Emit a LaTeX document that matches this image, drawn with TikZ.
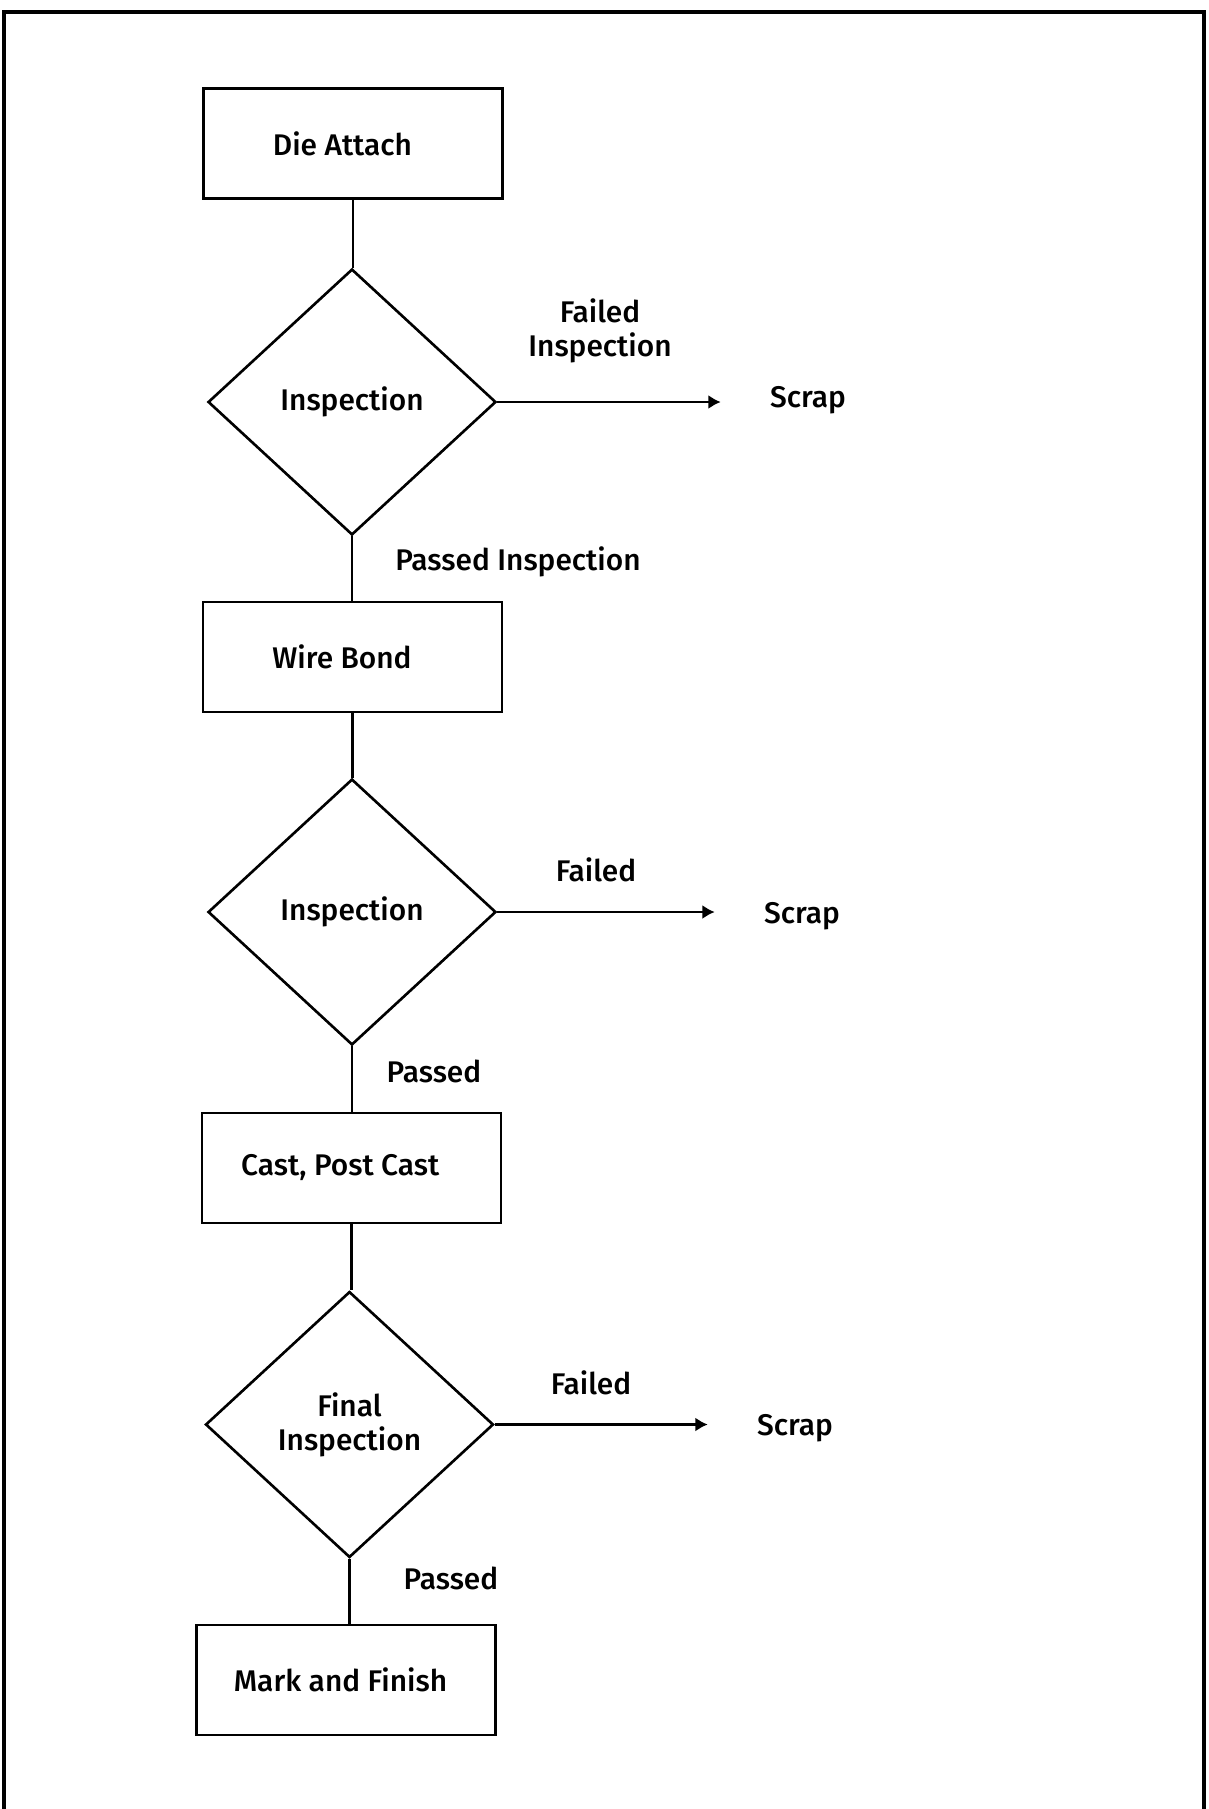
\documentclass[tikz,border=0pt]{standalone}
\usepackage{fontspec}
\setmainfont{Fira Sans}[UprightFont={* Medium}]
\usetikzlibrary{arrows.meta}
\usetikzlibrary{shapes.geometric}

\begin{document}
\begin{tikzpicture}[x=0.02cm,y=-0.02cm]
  \tikzstyle{stepbox}=[draw,line width=1.5pt,rectangle,minimum width=5.98cm,minimum height=2.2cm,inner sep=0pt]
  \tikzstyle{check}=[draw,line width=1.5pt,diamond,minimum width=5.76cm,minimum height=5.32cm,inner sep=0pt,align=center]
  \tikzstyle{lbl}=[inner sep=0pt,align=center]
  \tikzstyle{flow}=[line width=1.5pt]
  \tikzstyle{fail}=[line width=1.5pt,-{Latex[length=7pt,width=8pt]},shorten >=0.98cm]
  \tikzset{every node/.style={font=\fontsize{17pt}{19.5pt}\selectfont}}

  \useasboundingbox (0,0) rectangle (1209,1809);

  % FRAME
  \draw[line width=2.2pt] (4,1809) -- (4,12) -- (1204,12) -- (1204,1809);

  % STEPS
  \node[stepbox] (attach) at (353,143.5) {Die Attach\hspace*{0.42cm}};
  \node[check]   (insp1)  at (352,402)   {Inspection};
  \node[stepbox] (wire)   at (352.5,657) {Wire Bond\hspace*{0.42cm}};
  \node[check]   (insp2)  at (352,912)   {Inspection};
  \node[stepbox] (cast)   at (351.5,1168) {Cast, Post Cast\hspace*{0.45cm}};
  \node[check]   (insp3)  at (349.5,1424.5) {Final\\Inspection};
  \node[stepbox] (mark)   at (346,1680)  {Mark and Finish\hspace*{0.22cm}};

  % SCRAP
  \node[lbl] (scrap1) at (808,400)  {Scrap};
  \node[lbl] (scrap2) at (802,916)  {Scrap};
  \node[lbl] (scrap3) at (795,1428) {Scrap};

  % LABELS
  \node[lbl] (fail1) at (600,331)  {Failed\\Inspection};
  \node[lbl] (pass1) at (518,562)  {Passed Inspection};
  \node[lbl] (fail2) at (596,870)  {Failed};
  \node[lbl] (pass2) at (434,1071) {Passed};
  \node[lbl] (fail3) at (591,1383) {Failed};
  \node[lbl] (pass3) at (451,1578) {Passed};

  % CONNECTORS
  \draw[flow] (attach.south) -- (attach.south |- insp1.north);
  \draw[flow] (insp1.south) -- (insp1.south |- wire.north);
  \draw[flow] (wire.south) -- (wire.south |- insp2.north);
  \draw[flow] (insp2.south) -- (insp2.south |- cast.north);
  \draw[flow] (cast.south) -- (cast.south |- insp3.north);
  \draw[flow] (insp3.south) -- (insp3.south |- mark.north);

  \draw[fail] (insp1.east) -- (scrap1.west |- insp1.east);
  \draw[fail] (insp2.east) -- (scrap2.west |- insp2.east);
  \draw[fail] (insp3.east) -- (scrap3.west |- insp3.east);
\end{tikzpicture}
\end{document}
